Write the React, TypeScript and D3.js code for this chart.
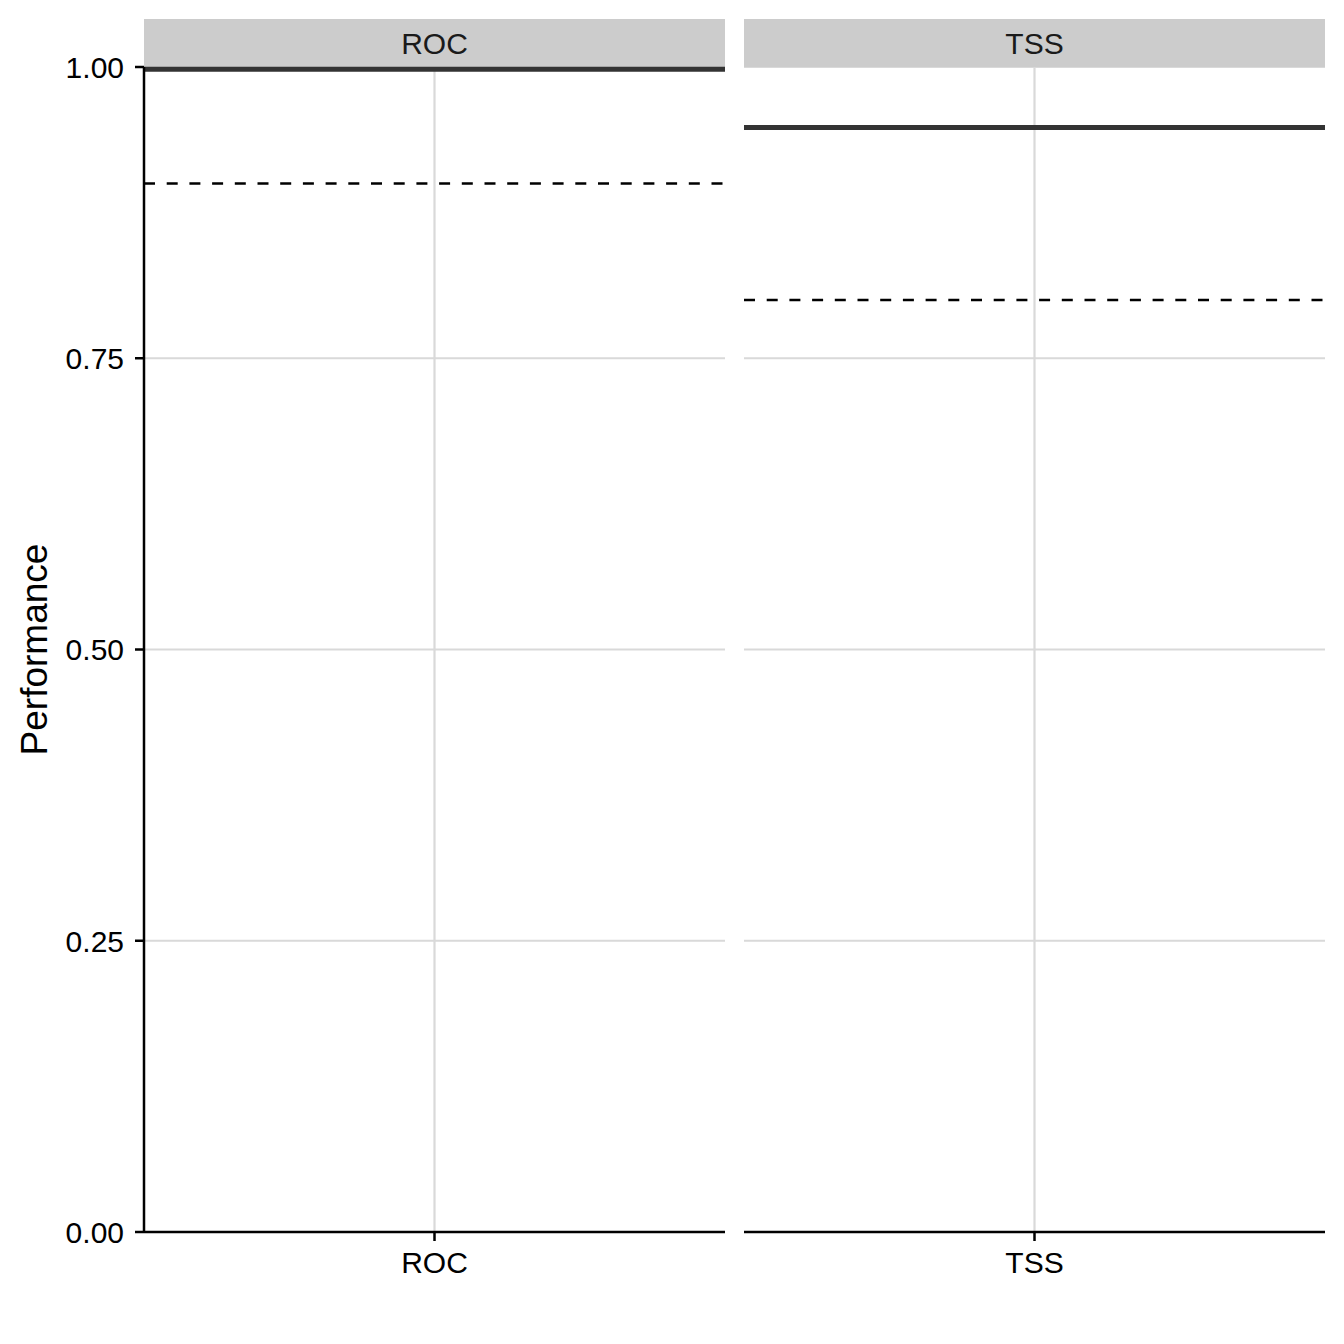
import React from 'react';
import * as d3 from 'd3';

// Facet categories and their values
const metrics = ['ROC', 'TSS'];
const performance = [0.998, 0.948]; // solid line
const threshold = [0.9, 0.8]; // dashed line
const yTicks = [0, 0.25, 0.5, 0.75, 1.0];

const W = 1344;
const H = 1344;
const margin = { top: 67, right: 19, bottom: 112, left: 144 };
const stripH = 48;
const FONT = '"Liberation Sans", Arial, Helvetica, sans-serif';

const App: React.FC = () => {
  const y = d3.scaleLinear().domain([0, 1]).range([H - margin.bottom, margin.top]);

  const panel = d3.scaleBand<string>()
    .domain(metrics)
    .range([margin.left, W - margin.right])
    .paddingInner(19 / 600)
    .paddingOuter(0);
  const bw = panel.bandwidth();

  const y0 = y(0);

  return (
    <div style={{ position: 'absolute', top: 0, left: 0 }}>
      <svg width={W} height={H} style={{ display: 'block', background: '#fff' }} fontFamily={FONT}>
        {metrics.map((m, i) => {
          const px = panel(m) as number;
          const x = d3.scalePoint<string>().domain([m]).range([0, bw]).padding(0.5);
          const cx = px + (x(m) as number);
          return (
            <g key={m}>
              {/* grid */}
              {yTicks.map(t => (
                <line key={t} x1={px} x2={px + bw} y1={y(t)} y2={y(t)} stroke="#d9d9d9" strokeWidth={2.2} />
              ))}
              <line x1={cx} x2={cx} y1={y(1)} y2={y0} stroke="#d9d9d9" strokeWidth={2.2} />

              {/* strip */}
              <rect x={px} y={margin.top - stripH} width={bw} height={stripH} fill="#cccccc" />
              <text x={px + bw / 2} y={margin.top - stripH / 2} dy="0.35em" textAnchor="middle"
                fontSize={30} fill="#1a1a1a">{m}</text>

              {/* lines */}
              <line x1={px} x2={px + bw} y1={y(threshold[i])} y2={y(threshold[i])}
                stroke="#000" strokeWidth={2.5} strokeDasharray="11,11.7" />
              <line x1={px} x2={px + bw} y1={y(performance[i])} y2={y(performance[i])}
                stroke="#333333" strokeWidth={5} />

              {/* x axis */}
              <line x1={px} x2={px + bw} y1={y0} y2={y0} stroke="#000" strokeWidth={2.5} />
              <line x1={cx} x2={cx} y1={y0} y2={y0 + 9} stroke="#000" strokeWidth={2.5} />
              <text x={cx} y={y0 + 41} textAnchor="middle" fontSize={30} fill="#000">{m}</text>
            </g>
          );
        })}

        {/* y axis */}
        <line x1={margin.left} x2={margin.left} y1={y(1)} y2={y0} stroke="#000" strokeWidth={2.5} />
        {yTicks.map(t => (
          <g key={t}>
            <line x1={margin.left - 9} x2={margin.left} y1={y(t)} y2={y(t)} stroke="#000" strokeWidth={2.5} />
            <text x={margin.left - 20} y={y(t)} dy="0.36em" textAnchor="end" fontSize={30} fill="#000">
              {d3.format('.2f')(t)}
            </text>
          </g>
        ))}
        <text transform={`translate(47,${(y(0) + y(1)) / 2}) rotate(-90)`} textAnchor="middle"
          fontSize={37} fill="#000">Performance</text>
      </svg>
    </div>
  );
};

export default App;
